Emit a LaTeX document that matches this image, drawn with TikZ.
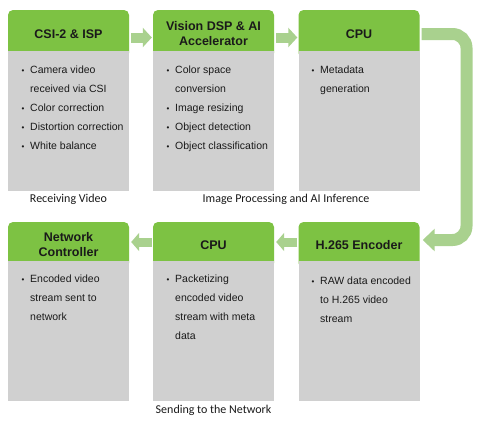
\documentclass[tikz,border=0pt]{standalone}
\usepackage{fontspec}
\setmainfont{Liberation Sans}
\newfontfamily\labfont{Carlito}
\usetikzlibrary{arrows.meta}
\definecolor{hgreen}{HTML}{7DC243}
\definecolor{agreen}{HTML}{A9D18E}
\definecolor{bgray}{HTML}{D0D0D0}
\definecolor{txt}{HTML}{1A1A1A}
\newcommand\bul{\makebox[8.5pt][l]{\fontsize{8}{8}\selectfont\textbullet}}
\newcommand\ind{\hspace*{8.5pt}}
\begin{document}
\begin{tikzpicture}[x=1pt,y=-1pt,
  header/.style={fill=hgreen, rounded corners=5pt, minimum width=121pt, minimum height=48pt,
    inner sep=0pt, align=center, text=txt, font=\bfseries\fontsize{12.5}{15}\selectfont},
  hbottom/.style={header, minimum height=46pt},
  body/.style={fill=bgray, minimum width=121pt, inner sep=0pt},
  btext/.style={anchor=base west, inner sep=0pt, text=txt, font=\fontsize{10.5}{19}\selectfont},
  lab/.style={inner sep=0pt, text=txt, font=\labfont\fontsize{12}{14}\selectfont},
  sarrow/.style={draw=agreen, line width=10pt, -{Triangle[length=9pt,width=19pt]}},
  barrow/.style={draw=agreen, line width=9pt, -{Triangle[length=8pt,width=18pt]}},
  bigarrow/.style={draw=agreen, line width=12pt, rounded corners=14pt, -{Triangle[length=12pt,width=22pt]}}]
\useasboundingbox (0,0) rectangle (478,426);
\fill[white] (0,0) rectangle (478,426);

% top row
\node[header] (h1) at (68.5,34) {CSI-2 \& ISP};
\node[header] (h2) at (213.5,34) {Vision DSP \& AI\\Accelerator};
\node[header] (h3) at (359,34) {CPU};
\node[body, minimum height=140pt] (b1) at (68.5,121) {};
\node[body, minimum height=140pt] (b2) at (213.5,121) {};
\node[body, minimum height=140pt] (b3) at (359,121) {};

\node[btext] (t1) at (21.5,73) {\begin{tabular}[t]{@{}l@{}}
\bul Camera video\\ \ind received via CSI\\ \bul Color correction\\ \bul Distortion correction\\ \bul White balance\end{tabular}};
\node[btext] (t2) at (166.5,73) {\begin{tabular}[t]{@{}l@{}}
\bul Color space\\ \ind conversion\\ \bul Image resizing\\ \bul Object detection\\ \bul Object classification\end{tabular}};
\node[btext] (t3) at (311.5,73) {\begin{tabular}[t]{@{}l@{}}
\bul Metadata\\ \ind generation\end{tabular}};

\node[lab] (l1) at (68.5,199) {Receiving Video};
\node[lab] (l2) at (286,199) {Image Processing and AI Inference};

% bottom row
\node[hbottom] (h4) at (68.5,245) {Network\\Controller};
\node[hbottom] (h5) at (213.5,245) {CPU};
\node[hbottom] (h6) at (359,245) {H.265 Encoder};
\node[body, minimum height=140pt] (b4) at (68.5,331) {};
\node[body, minimum height=140pt] (b5) at (213.5,331) {};
\node[body, minimum height=140pt] (b6) at (359,331) {};

\node[btext] (t4) at (21.5,282) {\begin{tabular}[t]{@{}l@{}}
\bul Encoded video\\ \ind stream sent to\\ \ind network\end{tabular}};
\node[btext] (t5) at (166.5,282) {\begin{tabular}[t]{@{}l@{}}
\bul Packetizing\\ \ind encoded video\\ \ind stream with meta\\ \ind data\end{tabular}};
\node[btext] (t6) at (311.5,284) {\begin{tabular}[t]{@{}l@{}}
\bul RAW data encoded\\ \ind to H.265 video\\ \ind stream\end{tabular}};

\node[lab] (l3) at (213.5,410) {Sending to the Network};

% connectors
\draw[sarrow] ([shift={(2,3.5)}]h1.east) -- ([shift={(-1,3.5)}]h2.west);
\draw[sarrow] ([shift={(2,3.5)}]h2.east) -- ([shift={(-1,3.5)}]h3.west);
\coordinate (u1) at (466.5,34);
\coordinate (u2) at (466.5,240);
\draw[bigarrow] ([xshift=2pt]h3.east) -- (u1) -- (u2) -- ([shift={(3,-5)}]h6.east);
\draw[barrow] ([shift={(-1,-3)}]h6.west) -- ([shift={(2,-3)}]h5.east);
\draw[barrow] ([shift={(-1,-3)}]h5.west) -- ([shift={(2,-3)}]h4.east);
\end{tikzpicture}
\end{document}
